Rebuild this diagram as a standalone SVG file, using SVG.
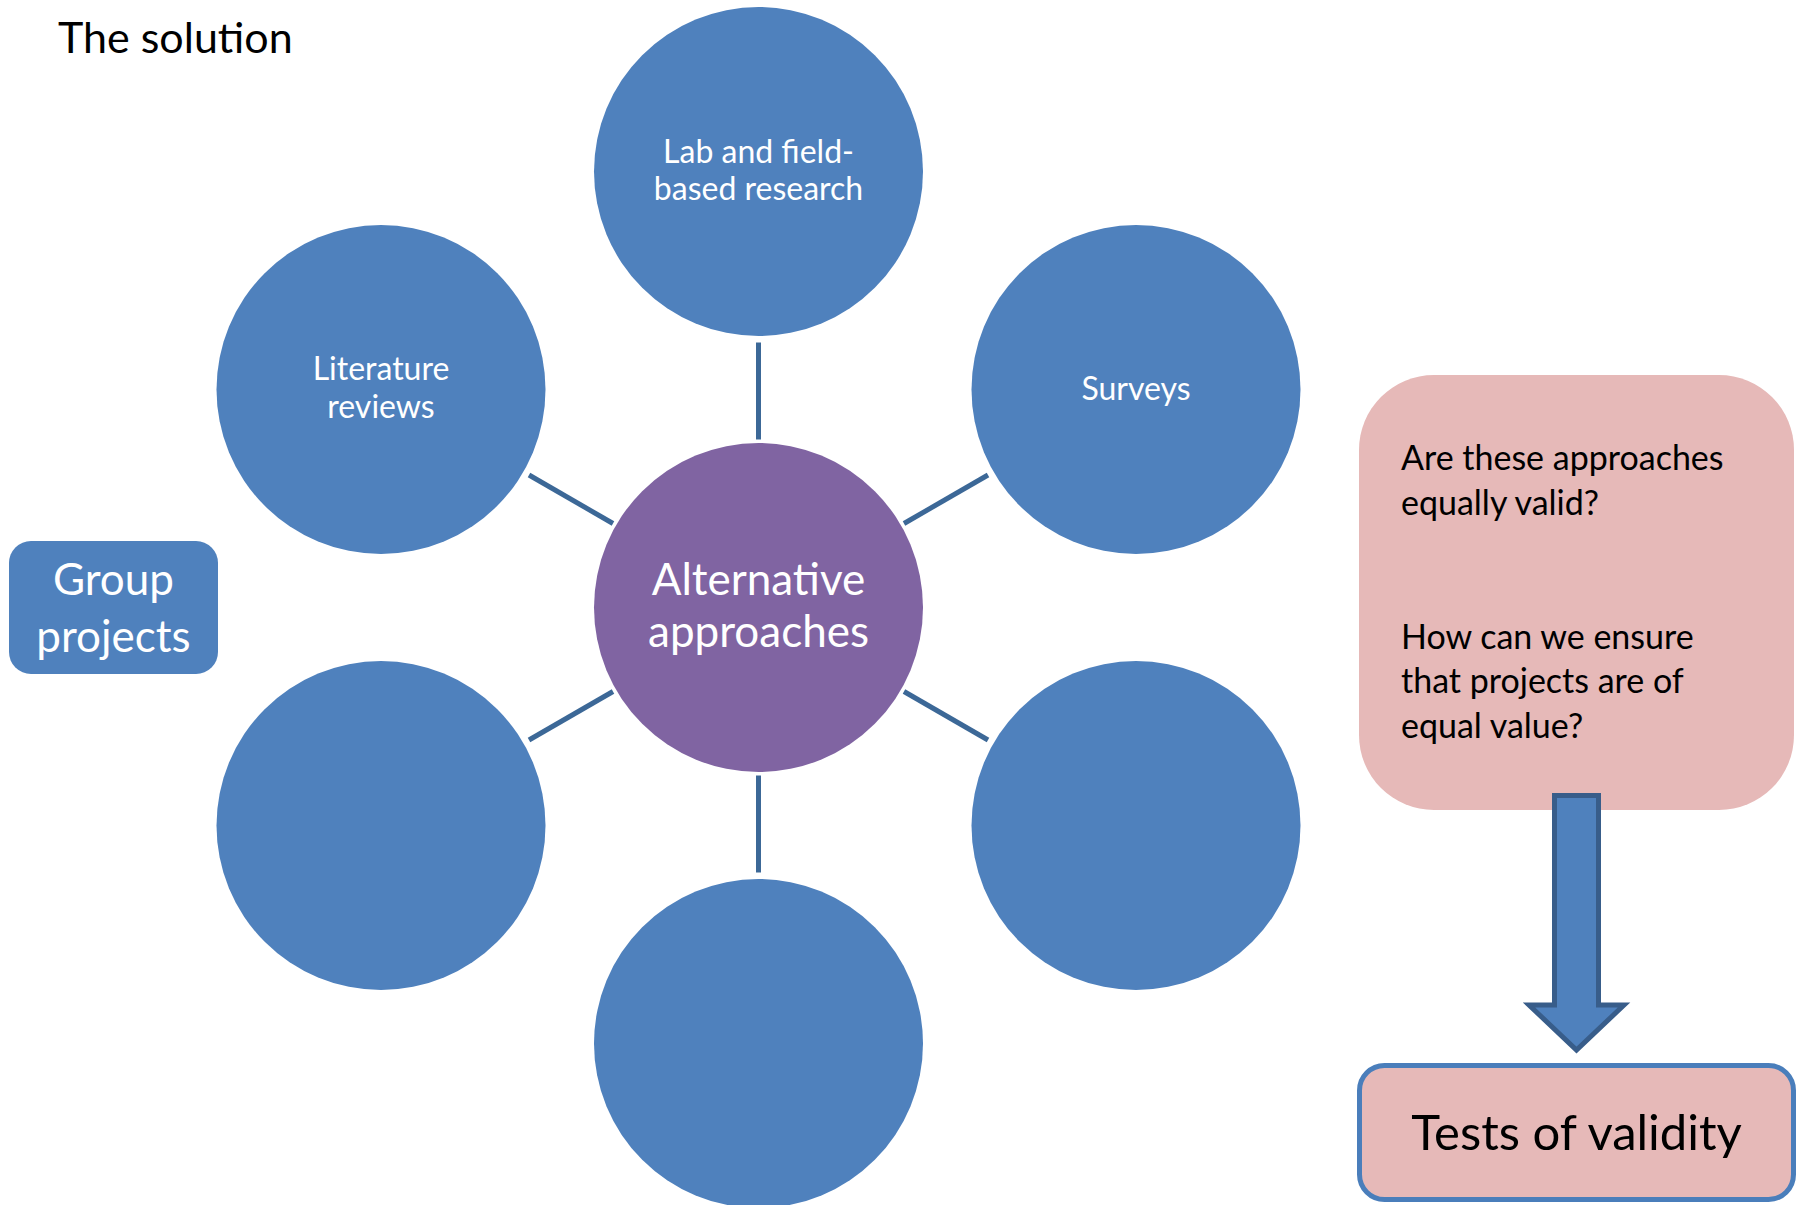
<svg xmlns="http://www.w3.org/2000/svg" width="1804" height="1205" viewBox="0 0 1804 1205">
<style>
.c{fill:#4f81bd}
.ctr{fill:#8064a2}
.w{fill:#ffffff;font-family:Lato,"Liberation Sans",sans-serif;text-anchor:middle}
.k{fill:#000000;font-family:Lato,"Liberation Sans",sans-serif}
.conn line{stroke:#3c6897;stroke-width:5}
</style>
<rect width="1804" height="1205" fill="#ffffff"/>
<text class="k" x="58" y="53" font-size="43">The solution</text>
<g class="conn" id="connectors">
<line x1="758.5" y1="342.5" x2="758.5" y2="439.5"/>
<line x1="529" y1="475" x2="613" y2="523.5"/>
<line x1="988" y1="475" x2="904" y2="523.5"/>
<line x1="529" y1="740" x2="613" y2="691.5"/>
<line x1="988" y1="740" x2="904" y2="691.5"/>
<line x1="758.5" y1="775.5" x2="758.5" y2="872.5"/>
</g>
<g id="center">
<circle class="ctr" cx="758.5" cy="607.5" r="164.5"/>
<text class="w" x="758.5" y="595" font-size="44">Alternative</text>
<text class="w" x="758.5" y="647" font-size="44">approaches</text>
</g>
<g id="lab">
<circle class="c" cx="758.5" cy="171.5" r="164.5"/>
<text class="w" x="758.5" y="163" font-size="32">Lab and field-</text>
<text class="w" x="758.5" y="200" font-size="32">based research</text>
</g>
<g id="literature">
<circle class="c" cx="381" cy="389.5" r="164.5"/>
<text class="w" x="381" y="380" font-size="32">Literature</text>
<text class="w" x="381" y="418" font-size="32">reviews</text>
</g>
<g id="surveys">
<circle class="c" cx="1136" cy="389.5" r="164.5"/>
<text class="w" x="1136" y="400" font-size="32">Surveys</text>
</g>
<g id="lowerleft">
<circle class="c" cx="381" cy="825.5" r="164.5"/>
</g>
<g id="lowerright">
<circle class="c" cx="1136" cy="825.5" r="164.5"/>
</g>
<g id="bottom">
<circle class="c" cx="758.5" cy="1043.5" r="164.5"/>
</g>
<g id="group-projects">
<rect x="9" y="541" width="209" height="133" rx="22" fill="#4f81bd"/>
<text class="w" x="113.5" y="595" font-size="44">Group</text>
<text class="w" x="113.5" y="652" font-size="44">projects</text>
</g>
<g id="questions">
<rect x="1359" y="375" width="435" height="435" rx="75" fill="#e6b9b8"/>
<text class="k" x="1401" y="470" font-size="34">Are these approaches</text>
<text class="k" x="1401" y="515" font-size="34">equally valid?</text>
<text class="k" x="1401" y="649" font-size="34">How can we ensure</text>
<text class="k" x="1401" y="693" font-size="34">that projects are of</text>
<text class="k" x="1401" y="738" font-size="34">equal value?</text>
</g>
<g id="arrow">
<polygon points="1554.5,795.5 1598.5,795.5 1598.5,1005 1624,1005 1576.5,1050 1529,1005 1554.5,1005" fill="#4f81bd" stroke="#385d8a" stroke-width="5" stroke-linejoin="miter"/>
</g>
<g id="tests">
<rect x="1359.5" y="1065.5" width="434" height="134" rx="25" fill="#e6b9b8" stroke="#4a7ebb" stroke-width="5"/>
<text class="k" x="1576.5" y="1150" font-size="49" text-anchor="middle">Tests of validity</text>
</g>
</svg>
